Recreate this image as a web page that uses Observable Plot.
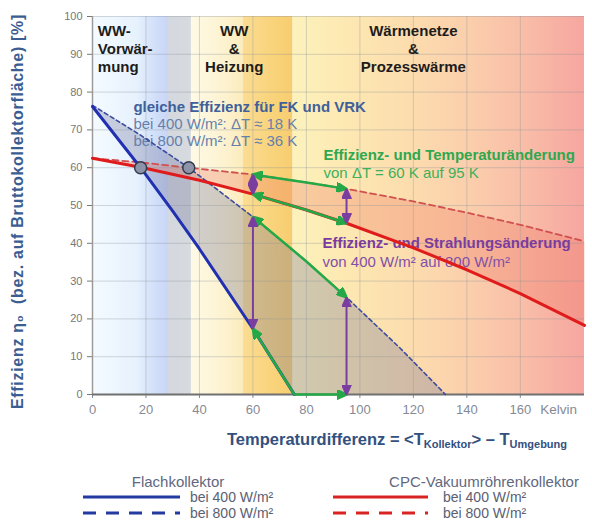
<!DOCTYPE html>
<html>
<head>
<meta charset="utf-8">
<script src="https://cdn.jsdelivr.net/npm/d3@7"></script>
<script src="https://cdn.jsdelivr.net/npm/@observablehq/plot@0.6"></script>
<style>
  body { margin: 0; background: #fff; font-family: "Liberation Sans", Arial, sans-serif; }
  #wrap { position: relative; width: 592px; height: 528px; overflow: hidden; background: #fff; }
  #chart { position: absolute; left: 0; top: 0; }
  #xlabel { position: absolute; left: 227px; top: 430px; font-weight: bold; font-size: 16.5px;
            color: #33507e; white-space: nowrap; line-height: 18px; }
  #xlabel sub { font-size: 11px; vertical-align: -3px; line-height: 0; }
  #legend { position: absolute; left: 0; top: 460px; }
</style>
</head>
<body>
<div id="wrap">
  <div id="chart"></div>
  <div id="xlabel">Temperaturdifferenz = &lt;T<sub>Kollektor</sub>&gt; – T<sub>Umgebung</sub></div>
  <svg id="legend" width="592" height="68"></svg>
</div>
<script>
// ---------- data ----------
const xTicks = [0, 20, 40, 60, 80, 100, 120, 140, 160];
const yTicks = [0, 10, 20, 30, 40, 50, 60, 70, 80, 90, 100];

// Flachkollektor (FK): efficiency in % over temperature difference in K
const fk400_dT  = [0, 18, 30, 40, 60, 75.5];
const fk400_eta = [76.2, 60, 48.5, 38.5, 17.4, 0];
const fk800_dT  = [0, 18, 36, 60, 80, 95, 115, 132];
const fk800_eta = [76.5, 68.6, 60, 47, 35.2, 25.7, 12.3, 0];

// CPC-Vakuumröhrenkollektor (VRK)
const vrk400_dT  = [0, 18, 40, 60, 80, 95, 120, 140, 160, 184];
const vrk400_eta = [62.5, 60.1, 56.7, 53.0, 48.8, 45.3, 38.8, 33.0, 26.7, 18.3];
const vrk800_dT  = [0, 18, 36, 60, 80, 95, 120, 140, 160, 184];
const vrk800_eta = [62.5, 61.4, 60, 58.2, 56.1, 54.4, 51.1, 48.1, 44.9, 40.5];

// points of equal efficiency FK / VRK (400 and 800 W/m²)
const equalDT  = [18, 36];
const equalEta = [60, 60];

// temperature change 60 K -> 95 K
const changeDT = [60, 95];

// application zones
const zoneLabels = ["WW-\nVorwär-\nmung", "WW\n&\nHeizung", "Wärmenetze\n&\nProzesswärme"];
const zoneFrom = [0, 37, 75];
const zoneTo   = [37, 75, 184];

const legendGroups = ["Flachkollektor", "CPC-Vakuumröhrenkollektor"];
const legendRows = ["bei 400 W/m²", "bei 800 W/m²"];

// ---------- styles ----------
const FONT = "Liberation Sans, Arial, sans-serif";
const BLUE = "#2030b0", BLUE_D = "#3d4c9e", RED = "#e01b1b", RED_D = "#d05050";
const GREEN = "#25a847", PURPLE = "#7a3ea0";
const zoneStops = [
  [[0, "#f5fbff"], [17, "#e6f1fd"], [21, "#d8e5fb"], [28.5, "#c8d5f6"], [28.6, "#d4d9df"], [37, "#d7dade"]],
  [[37, "#fefae6"], [50, "#fdf2cf"], [56.5, "#fcecbc"], [56.6, "#fbdc92"], [68, "#f9d37a"], [75, "#f7cd70"]],
  [[75, "#fdf2bc"], [95, "#fde8b2"], [120, "#fcdcae"], [140, "#fbcfac"], [160, "#f9bfa8"], [184, "#f6a6a0"]]
];

// ---------- derived tables ----------
const pts = (xs, ys) => xs.map((x, i) => ({x, y: ys[i]}));
const fk400 = pts(fk400_dT, fk400_eta);
const fk800 = pts(fk800_dT, fk800_eta);
const vrk400 = pts(vrk400_dT, vrk400_eta);
const vrk800 = pts(vrk800_dT, vrk800_eta);
const equal = pts(equalDT, equalEta);
const zones = zoneLabels.map((label, i) => ({label, from: zoneFrom[i], to: zoneTo[i]}));

// efficiency at a sampled temperature difference (0 beyond the end of the curve)
const valueAt = (curve, x) => { const p = curve.find(d => d.x === x); return p ? p.y : 0; };
// part of a curve between the two temperature differences
const span = (curve) => {
  const [a, b] = changeDT;
  const s = curve.filter(d => d.x >= a && d.x <= b);
  if (s[s.length - 1].x < b) s.push({x: b, y: valueAt(curve, b)});
  return s;
};
// closed outline between a lower and an upper curve
const band = (lo, hi) => [...hi, ...lo.slice().reverse()];

const purplePairs = changeDT.flatMap(x => [
  {x, lo: valueAt(vrk400, x), hi: valueAt(vrk800, x)},
  {x, lo: valueAt(fk400, x), hi: valueAt(fk800, x)}
]);

// filled triangular arrowhead
function head(color, context) {
  const doc = (context && context.document) || document;
  const ns = "http://www.w3.org/2000/svg";
  const m = doc.createElementNS(ns, "marker");
  m.setAttribute("viewBox", "-10 -5 10 10");
  m.setAttribute("markerWidth", 10);
  m.setAttribute("markerHeight", 10);
  m.setAttribute("markerUnits", "userSpaceOnUse");
  m.setAttribute("orient", "auto-start-reverse");
  m.setAttribute("fill", color);
  const p = doc.createElementNS(ns, "path");
  p.setAttribute("d", "M-10,-4.5L0,0L-10,4.5Z");
  m.appendChild(p);
  return m;
}

const txt = {fontFamily: FONT, text: d => d};
const yTitle = "Effizienz η₀  (bez. auf Bruttokollektorfläche) [%]";

const chart = Plot.plot({
  width: 592,
  height: 424,
  marginLeft: 92, marginRight: 8, marginTop: 16, marginBottom: 30,
  x: {domain: [0, 184], label: null},
  y: {domain: [0, 100], label: null},
  style: {fontFamily: FONT, background: "transparent", overflow: "visible"},
  marks: [
    // application zones
    ...zones.map((z, i) => Plot.rect([z], {x1: "from", x2: "to", y1: 0, y2: 100, fill: `url(#zone${i})`})),
    // shaded differences between 400 and 800 W/m²
    Plot.line(band(fk400, fk800), {x: "x", y: "y", fill: "rgb(105,110,150)", fillOpacity: 0.3, stroke: "none"}),
    Plot.line(band(vrk400, vrk800), {x: "x", y: "y", fill: "rgb(240,115,95)", fillOpacity: 0.3, stroke: "none"}),
    // grid
    Plot.gridX(xTicks, {stroke: "#8a929c", strokeOpacity: 0.35}),
    Plot.gridY(yTicks, {stroke: "#8a929c", strokeOpacity: 0.35}),
    // axes
    Plot.axisY(yTicks, {tickSize: 5, tickPadding: 5, fontSize: 11, color: "#777", label: null}),
    Plot.axisX(xTicks, {tickSize: 4, tickPadding: 6, fontSize: 13, color: "#858a96", label: null}),
    Plot.text(["Kelvin"], {...txt, x: 160, y: 0, dx: 20, dy: 10, lineAnchor: "top", textAnchor: "start", fontSize: 13.5, fill: "#858a96"}),
    Plot.ruleX([0], {stroke: "#9a9a9a", strokeWidth: 1.5}),
    Plot.ruleY([0], {stroke: "#707070", strokeWidth: 2}),
    Plot.text([yTitle], {
      ...txt, frameAnchor: "left", textAnchor: "middle", dx: -75, dy: 6, rotate: -90,
      fontSize: 16, fontWeight: "bold", fill: "#3b5d91"
    }),
    // zone titles
    Plot.text([zones[0]], {...txt, text: "label", x: 2, y: 91.6, textAnchor: "start", lineHeight: 1.2, fontSize: 15, fontWeight: "bold", fill: "#1c1c1c"}),
    Plot.text(zones.slice(1), {...txt, text: "label", x: (d, i) => [53, 120][i], y: 91.6, lineHeight: 1.2, fontSize: 15, fontWeight: "bold", fill: "#1c1c1c"}),
    // annotations
    Plot.text(["gleiche Effizienz für FK und VRK"], {...txt, x: 15.3, y: 76, textAnchor: "start", fontSize: 15, fontWeight: "bold", fill: "#40609a"}),
    Plot.text([`bei 400 W/m²: ΔT ≈ ${equalDT[0]} K\nbei 800 W/m²: ΔT ≈ ${equalDT[1]} K`], {...txt, x: 15.3, y: 69.3, textAnchor: "start", lineHeight: 1.13, fontSize: 15, fill: "#6680ac"}),
    Plot.text(["Effizienz- und Temperaturänderung"], {...txt, x: 86.4, y: 63.2, textAnchor: "start", fontSize: 15, fontWeight: "bold", fill: "#2fa84f"}),
    Plot.text([`von ΔT = ${changeDT[0]} K auf ${changeDT[1]} K`], {...txt, x: 86.4, y: 58.5, textAnchor: "start", fontSize: 15, fill: "#3db05c"}),
    Plot.text(["Effizienz- und Strahlungsänderung"], {...txt, x: 86, y: 40, textAnchor: "start", fontSize: 15, fontWeight: "bold", fill: "#7a3d9e"}),
    Plot.text(["von 400 W/m² auf 800 W/m²"], {...txt, x: 86, y: 35, textAnchor: "start", fontSize: 15, fill: "#8150a8"}),
    // efficiency curves
    Plot.line(fk800, {x: "x", y: "y", stroke: BLUE_D, strokeWidth: 1.6, strokeDasharray: "4,3"}),
    Plot.line(vrk800, {x: "x", y: "y", stroke: RED_D, strokeWidth: 1.8, strokeDasharray: "6,4"}),
    Plot.line(fk400, {x: "x", y: "y", stroke: BLUE, strokeWidth: 3}),
    Plot.line(vrk400, {x: "x", y: "y", stroke: RED, strokeWidth: 3}),
    // temperature change arrows
    ...[vrk800, vrk400, fk800, fk400].map(c =>
      Plot.line(span(c), {x: "x", y: "y", stroke: GREEN, strokeWidth: 2.5, markerStart: head, markerEnd: head})),
    // irradiance change arrows
    Plot.link(purplePairs, {x1: "x", x2: "x", y1: "lo", y2: "hi", stroke: PURPLE, strokeWidth: 2, markerStart: head, markerEnd: head}),
    // equal efficiency points
    Plot.dot(equal, {x: "x", y: "y", r: 6, fill: "#8d93a8", stroke: "#343a4c", strokeWidth: 1.5})
  ]
});

// zone gradients
const svg = d3.select(chart);
const defs = svg.insert("defs", ":first-child");
zoneStops.forEach((stops, i) => {
  const g = defs.append("linearGradient").attr("id", `zone${i}`)
    .attr("x1", 0).attr("x2", 1).attr("y1", 0).attr("y2", 0);
  stops.forEach(([k, c]) => g.append("stop")
    .attr("offset", (k - zoneFrom[i]) / (zoneTo[i] - zoneFrom[i]))
    .attr("stop-color", c));
});
// spaced-out y axis title
svg.selectAll("text").filter(function () { return this.textContent === yTitle; })
  .style("letter-spacing", "0.7px");
document.getElementById("chart").append(chart);

// legend
const lg = d3.select("#legend").style("font-family", FONT);
const legendCols = [
  {title: legendGroups[0], cx: 178, x1: 83, x2: 180, tx: 190, color: "#233aa0"},
  {title: legendGroups[1], cx: 484, x1: 333, x2: 428, tx: 443, color: "#d92222"}
];
legendCols.forEach(col => {
  lg.append("text").attr("x", col.cx).attr("y", 21).attr("text-anchor", "middle")
    .attr("dominant-baseline", "central").attr("font-size", 15).attr("fill", "#5f6880").text(col.title);
  legendRows.forEach((row, j) => {
    const y = 37 + j * 16;
    lg.append("line").attr("x1", col.x1).attr("x2", col.x2).attr("y1", y).attr("y2", y)
      .attr("stroke", col.color).attr("stroke-width", 3)
      .attr("stroke-dasharray", j === 1 ? "13,10" : null);
    lg.append("text").attr("x", col.tx).attr("y", y).attr("dominant-baseline", "central")
      .attr("font-size", 14).attr("fill", "#5a6072").text(row);
  });
});
</script>
</body>
</html>
